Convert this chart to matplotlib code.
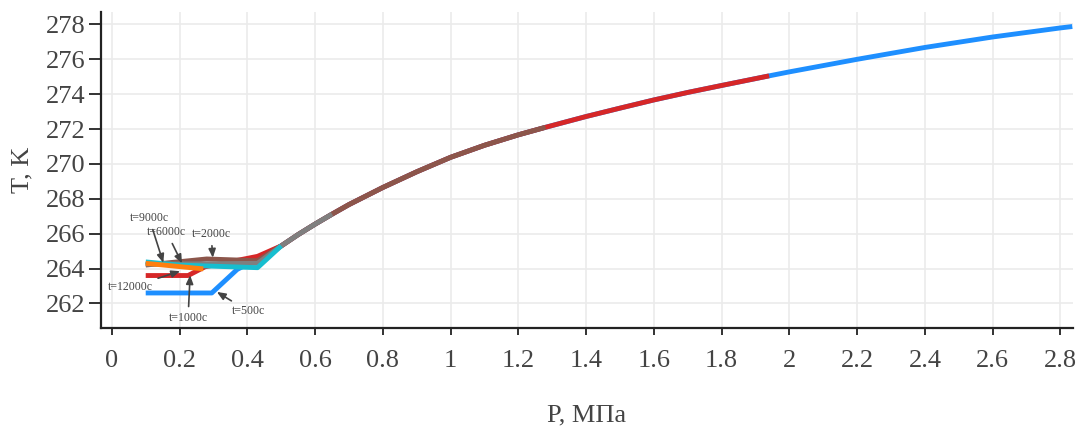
import matplotlib
matplotlib.use("Agg")
import matplotlib.pyplot as plt

plt.rcParams["font.family"] = ["Liberation Serif", "DejaVu Serif"]

# Equilibrium branch shared by every run: pressure (MPa) and temperature (K)
curve_p = [0.5, 0.55, 0.6, 0.65, 0.7, 0.8, 0.9, 1.0, 1.1, 1.2, 1.28, 1.4,
           1.5, 1.6, 1.7, 1.8, 1.94, 2.0, 2.2, 2.4, 2.6, 2.8, 2.835]
curve_t = [265.3, 265.95, 266.55, 267.12, 267.67, 268.65, 269.55, 270.38,
           271.07, 271.67, 272.1, 272.72, 273.2, 273.67, 274.1, 274.5, 275.05,
           275.28, 276.0, 276.68, 277.28, 277.8, 277.88]

# Low-pressure start of each run before it reaches the branch
p_500 = [0.1, 0.295, 0.37, 0.43]
t_500 = [262.6, 262.6, 263.95, 264.55]
p_1000 = [0.1, 0.225, 0.275, 0.43]
t_1000 = [263.6, 263.6, 264.1, 264.7]
p_2000 = [0.1, 0.28, 0.43]
t_2000 = [264.2, 264.55, 264.45]
p_6000 = [0.1, 0.43]
t_6000 = [264.25, 264.3]
p_9000 = [0.1, 0.2, 0.43]
t_9000 = [264.38, 264.2, 264.05]
p_12000 = [0.1, 0.27]
t_12000 = [264.3, 263.98]

# Last pressure each run reaches along the branch (None: never joins it)
p_end = {"500": 2.835, "1000": 1.94, "2000": 1.28, "6000": 0.65,
         "9000": 0.5, "12000": None}

run_names = ["500", "1000", "2000", "6000", "9000", "12000"]
run_p = [p_500, p_1000, p_2000, p_6000, p_9000, p_12000]
run_t = [t_500, t_1000, t_2000, t_6000, t_9000, t_12000]
run_colors = ["#1E8FFF", "#D62728", "#8C564B", "#7F7F7F", "#17BECF", "#FF7F0E"]

# Annotation labels: (pressure, temperature) of arrow tip and of label text
ann_labels = ["t=9000с", "t=6000с", "t=2000с", "t=12000с", "t=1000с", "t=500с"]
ann_tip = [(0.152, 264.33), (0.207, 264.3), (0.298, 264.62),
           (0.2016, 263.85), (0.231, 263.62), (0.31, 262.66)]
ann_text = [(0.110, 266.89), (0.162, 266.08), (0.293, 265.97),
            (0.054, 262.93), (0.225, 261.16), (0.402, 261.56)]

x_ticks = [0, 0.2, 0.4, 0.6, 0.8, 1, 1.2, 1.4, 1.6, 1.8, 2, 2.2, 2.4, 2.6, 2.8]
y_ticks = [262, 264, 266, 268, 270, 272, 274, 276, 278]

fig = plt.figure(figsize=(10.86, 4.38), dpi=100)
ax = fig.add_axes([0.093, 0.2511, 0.8947, 0.7222])

for name, ps, ts, col in zip(run_names, run_p, run_t, run_colors):
    xs = list(ps)
    ys = list(ts)
    end = p_end[name]
    if end is not None:
        for cp, ct in zip(curve_p, curve_t):
            if cp <= end + 1e-9:
                xs.append(cp)
                ys.append(ct)
    ax.plot(xs, ys, color=col, lw=3.5, solid_joinstyle="round",
            solid_capstyle="butt", zorder=3)

for lab, tip, txt in zip(ann_labels, ann_tip, ann_text):
    ax.annotate(lab, xy=tip, xytext=txt, ha="center", va="center",
                fontsize=8.5, color="#444444",
                arrowprops=dict(arrowstyle="-|>,head_length=0.6,head_width=0.25",
                                color="#444444", lw=1.2,
                                shrinkA=2, shrinkB=0),
                zorder=5)

ax.set_xlim(-0.032, 2.836)
ax.set_ylim(260.59, 278.73)
ax.set_xticks(x_ticks)
ax.set_xticklabels(["%g" % v for v in x_ticks])
ax.set_yticks(y_ticks)
ax.set_yticklabels(["%g" % v for v in y_ticks])

ax.grid(True, color="#EBEBEB", lw=1.2, zorder=0)
ax.set_axisbelow(True)
for side in ("top", "right"):
    ax.spines[side].set_visible(False)
for side in ("left", "bottom"):
    ax.spines[side].set_color("#222222")
    ax.spines[side].set_linewidth(1.6)

ax.tick_params(axis="x", direction="out", length=5, width=1.3,
               color="#222222", labelsize=19, labelcolor="#444444", pad=11)
ax.tick_params(axis="y", direction="out", length=9, width=1.3,
               color="#222222", labelsize=19, labelcolor="#444444", pad=2)

ax.set_xlabel("P, МПа", fontsize=19, color="#444444", va="center")
ax.xaxis.set_label_coords(0.5, -0.275)
ax.set_ylabel("T, K", fontsize=19, color="#444444", va="center")
ax.yaxis.set_label_coords(-0.0813, 0.5)

fig.savefig("out.png", dpi=100)
